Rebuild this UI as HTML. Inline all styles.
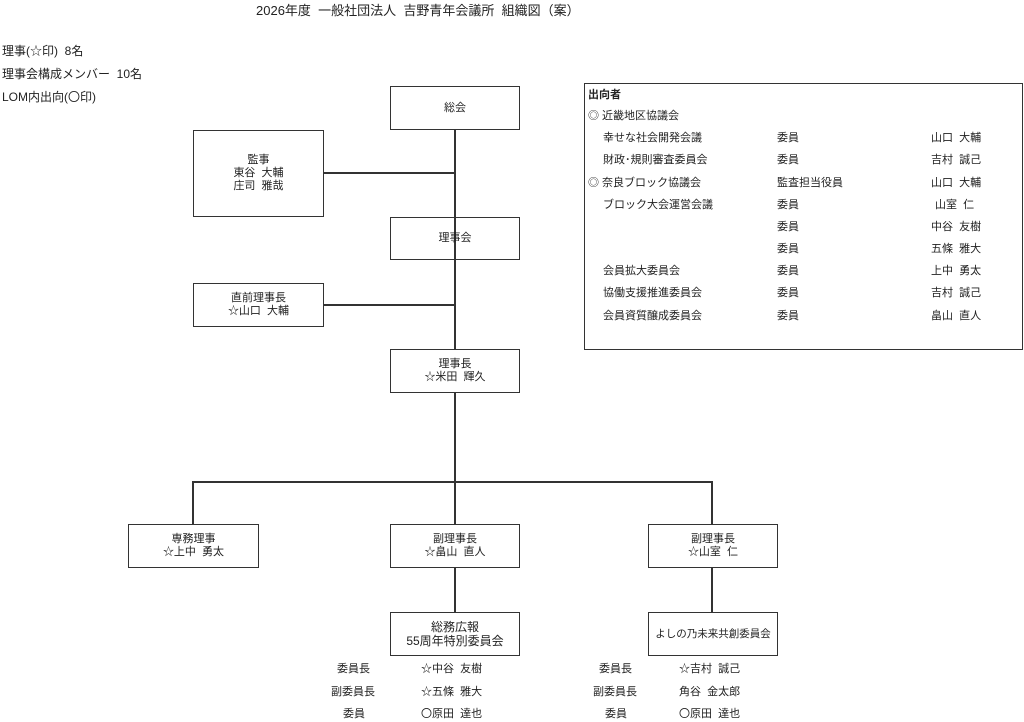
<!DOCTYPE html>
<html><head><meta charset="utf-8"><style>
body{margin:0;width:1024px;height:722px;background:#fff;position:relative;overflow:hidden;font-family:"Liberation Sans","Noto Sans CJK JP",sans-serif;color:#222;font-size:11px}
.t{position:absolute;white-space:nowrap;line-height:13px}
.b{position:absolute;border:1.5px solid #333;box-sizing:border-box;display:flex;align-items:center;justify-content:center;text-align:center;line-height:13px;font-size:11px}
.l{position:absolute;background:#333}
</style></head><body>
<div class="t" style="left:256px;top:3px;font-size:13px;line-height:16px">2026年度&nbsp; 一般社団法人&nbsp; 吉野青年会議所&nbsp; 組織図（案）</div>
<div class="t" style="left:2px;top:45px;font-size:12px">理事(☆印)&nbsp; 8名</div>
<div class="t" style="left:2px;top:68px;font-size:12px">理事会構成メンバー&nbsp; 10名</div>
<div class="t" style="left:2px;top:91px;font-size:12px">LOM内出向(〇印)</div>

<!-- lines -->
<div class="l" style="left:454px;top:129px;width:1.5px;height:220px"></div>
<div class="l" style="left:323px;top:172px;width:132px;height:1.5px"></div>
<div class="l" style="left:323px;top:304px;width:132px;height:1.5px"></div>
<div class="l" style="left:454px;top:392px;width:1.5px;height:132px"></div>
<div class="l" style="left:192px;top:481px;width:521px;height:1.5px"></div>
<div class="l" style="left:192px;top:481px;width:1.5px;height:43px"></div>
<div class="l" style="left:711px;top:481px;width:1.5px;height:43px"></div>
<div class="l" style="left:454px;top:567px;width:1.5px;height:45px"></div>
<div class="l" style="left:711px;top:567px;width:1.5px;height:45px"></div>

<div class="b" style="left:390px;top:86px;width:130px;height:44px">総会</div>
<div class="b" style="left:193px;top:130px;width:131px;height:87px">監事<br>東谷&nbsp; 大輔<br>庄司&nbsp; 雅哉</div>
<div class="b" style="left:390px;top:217px;width:130px;height:43px">理事会</div>
<div class="b" style="left:193px;top:283px;width:131px;height:44px">直前理事長<br>☆山口&nbsp; 大輔</div>
<div class="b" style="left:390px;top:349px;width:130px;height:44px">理事長<br>☆米田&nbsp; 輝久</div>
<div class="b" style="left:128px;top:524px;width:131px;height:44px">専務理事<br>☆上中&nbsp; 勇太</div>
<div class="b" style="left:390px;top:524px;width:130px;height:44px">副理事長<br>☆畠山&nbsp; 直人</div>
<div class="b" style="left:648px;top:524px;width:130px;height:44px">副理事長<br>☆山室&nbsp; 仁</div>
<div class="b" style="left:390px;top:612px;width:130px;height:44px;font-size:12px;line-height:14px">総務広報<br>55周年特別委員会</div>
<div class="b" style="left:648px;top:612px;width:130px;height:44px;font-size:10.5px">よしの乃未来共創委員会</div>

<div class="t" style="left:337px;top:663px">委員長</div>
<div class="t" style="left:331px;top:686px">副委員長</div>
<div class="t" style="left:343px;top:708px">委員</div>
<div class="t" style="left:421px;top:663px">☆中谷&nbsp; 友樹</div>
<div class="t" style="left:421px;top:686px">☆五條&nbsp; 雅大</div>
<div class="t" style="left:421px;top:708px">〇原田&nbsp; 達也</div>
<div class="t" style="left:599px;top:663px">委員長</div>
<div class="t" style="left:593px;top:686px">副委員長</div>
<div class="t" style="left:605px;top:708px">委員</div>
<div class="t" style="left:679px;top:663px">☆吉村&nbsp; 誠己</div>
<div class="t" style="left:679px;top:686px">角谷&nbsp; 金太郎</div>
<div class="t" style="left:679px;top:708px">〇原田&nbsp; 達也</div>

<div style="position:absolute;left:584px;top:83px;width:439px;height:267px;border:1.5px solid #333;box-sizing:border-box"></div>
<div class="t" style="left:588px;top:89px;font-weight:bold">出向者</div>
<div class="t" style="left:588px;top:110px">◎ 近畿地区協議会</div>
<div class="t" style="left:603px;top:132px">幸せな社会開発会議</div>
<div class="t" style="left:603px;top:154px">財政･規則審査委員会</div>
<div class="t" style="left:588px;top:177px">◎ 奈良ブロック協議会</div>
<div class="t" style="left:603px;top:199px">ブロック大会運営会議</div>
<div class="t" style="left:603px;top:265px">会員拡大委員会</div>
<div class="t" style="left:603px;top:287px">協働支援推進委員会</div>
<div class="t" style="left:603px;top:310px">会員資質醸成委員会</div>
<div class="t" style="left:777px;top:132px">委員</div>
<div class="t" style="left:777px;top:154px">委員</div>
<div class="t" style="left:777px;top:177px">監査担当役員</div>
<div class="t" style="left:777px;top:199px">委員</div>
<div class="t" style="left:777px;top:221px">委員</div>
<div class="t" style="left:777px;top:243px">委員</div>
<div class="t" style="left:777px;top:265px">委員</div>
<div class="t" style="left:777px;top:287px">委員</div>
<div class="t" style="left:777px;top:310px">委員</div>
<div class="t" style="left:931px;top:132px">山口&nbsp; 大輔</div>
<div class="t" style="left:931px;top:154px">吉村&nbsp; 誠己</div>
<div class="t" style="left:931px;top:177px">山口&nbsp; 大輔</div>
<div class="t" style="left:935px;top:199px">山室&nbsp; 仁</div>
<div class="t" style="left:931px;top:221px">中谷&nbsp; 友樹</div>
<div class="t" style="left:931px;top:243px">五條&nbsp; 雅大</div>
<div class="t" style="left:931px;top:265px">上中&nbsp; 勇太</div>
<div class="t" style="left:931px;top:287px">吉村&nbsp; 誠己</div>
<div class="t" style="left:931px;top:310px">畠山&nbsp; 直人</div>
</body></html>
